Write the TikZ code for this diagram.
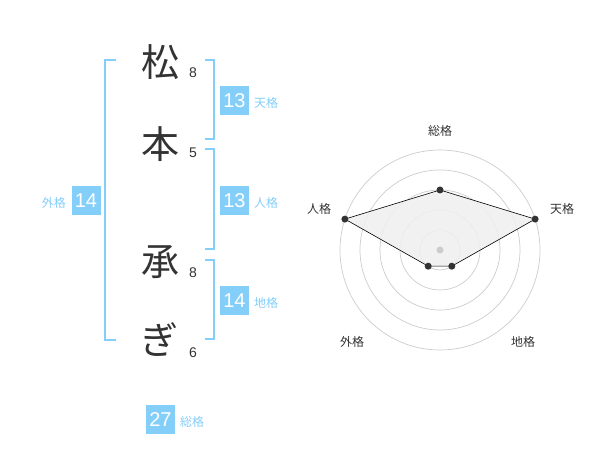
\documentclass[tikz,border=0pt]{standalone}
\usepackage{fontspec}
\setmainfont{Liberation Sans}
\newfontfamily\cjk{Noto Sans CJK JP}
\definecolor{kblue}{HTML}{84CEFA}
\definecolor{kdark}{HTML}{333333}
\definecolor{kgrid}{HTML}{CCCCCC}
\definecolor{kfill}{HTML}{EFEFEF}
\tikzset{
  charnode/.style={font=\cjk\fontsize{38}{42}\selectfont, text=kdark, inner sep=0pt},
  strokenum/.style={font=\fontsize{14}{16}\selectfont, text=kdark, inner sep=0pt},
  numbox/.style={fill=kblue, text=white, minimum width=29pt, minimum height=29pt, inner sep=0pt, font=\fontsize{20}{22}\selectfont},
  kaku/.style={font=\cjk\fontsize{12}{14}\selectfont, text=kblue, inner sep=0pt},
  bracket/.style={draw=kblue, line width=2pt},
  radarlab/.style={font=\cjk\fontsize{12}{14}\selectfont, text=kdark, inner sep=0pt},
  gridc/.style={draw=kgrid, line width=0.7pt},
  dotp/.style={circle, fill=kdark, minimum size=7pt, inner sep=0pt},
}
\begin{document}
\begin{tikzpicture}[x=1pt,y=-1pt]
\useasboundingbox (0,0) rectangle (600,470);
% characters
\node[charnode] (c1) at (160,62) {松};
\node[charnode] (c2) at (160,144) {本};
\node[charnode] (c3) at (160,262) {承};
\node[charnode] (c4) at (159,340) {ぎ};
\node[strokenum] (s1) at (193,73) {8};
\node[strokenum] (s2) at (193,153) {5};
\node[strokenum] (s3) at (193,273) {8};
\node[strokenum] (s4) at (193,353) {6};
% brackets
\draw[bracket] (116,60) -- (105,60) -- (105,340) -- (116,340);
\draw[bracket] (205,60) -- (214,60) -- (214,139) -- (205,139);
\draw[bracket] (205,149) -- (214,149) -- (214,249) -- (205,249);
\draw[bracket] (205,260) -- (214,260) -- (214,339) -- (205,339);
% boxes
\node[numbox] (ten) at (234.5,100.5) {13};
\node[kaku, anchor=west] (tenl) at (254,103) {天格};
\node[numbox] (jin) at (234.5,200.5) {13};
\node[kaku, anchor=west] (jinl) at (254,203) {人格};
\node[numbox] (chi) at (234.5,300.5) {14};
\node[kaku, anchor=west] (chil) at (254,303) {地格};
\node[numbox] (gai) at (86,200.5) {14};
\node[kaku, anchor=east] (gail) at (66,203) {外格};
\node[numbox] (sou) at (160.5,419.5) {27};
\node[kaku, anchor=west] (soul) at (180,422) {総格};
% radar
\coordinate (ctr) at (440,250);
\foreach \r in {20,40,60,80,100} \draw[gridc] (ctr) circle[radius=\r];
\coordinate (pT) at (535.1,219.1);
\coordinate (pC) at (451.8,266.2);
\coordinate (pG) at (428.2,266.2);
\coordinate (pJ) at (344.9,219.1);
\coordinate (pS) at (440,190);
\filldraw[fill=kfill, draw=black, line width=0.6pt, fill opacity=0.9] (pS) -- (pT) -- (pC) -- (pG) -- (pJ) -- cycle;
\fill[kgrid] (ctr) circle[radius=3.5];
\foreach \p in {pS,pT,pC,pG,pJ} \node[dotp] at (\p) {};
\node[radarlab] (lS) at (440,131) {総格};
\node[radarlab] (lT) at (562,209) {天格};
\node[radarlab] (lJ) at (319,209) {人格};
\node[radarlab] (lG) at (352,342) {外格};
\node[radarlab] (lC) at (523,342) {地格};
\end{tikzpicture}
\end{document}
